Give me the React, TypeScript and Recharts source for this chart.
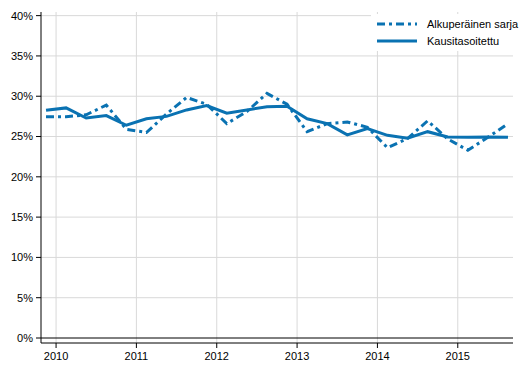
import { CartesianGrid, Line, LineChart, ReferenceLine, XAxis, YAxis } from 'recharts';

const quarters = [
  '2010Q1', '2010Q2', '2010Q3', '2010Q4',
  '2011Q1', '2011Q2', '2011Q3', '2011Q4',
  '2012Q1', '2012Q2', '2012Q3', '2012Q4',
  '2013Q1', '2013Q2', '2013Q3', '2013Q4',
  '2014Q1', '2014Q2', '2014Q3', '2014Q4',
  '2015Q1', '2015Q2', '2015Q3', '2015Q4',
];

const original = [
  27.45, 27.45, 27.7, 28.9, 25.9, 25.5, 27.8, 29.85, 29.0, 26.6, 28.1, 30.35,
  29.0, 25.6, 26.6, 26.8, 26.15, 23.6, 24.75, 26.95, 24.7, 23.3, 24.9, 26.6,
];

const adjusted = [
  28.25, 28.55, 27.3, 27.6, 26.4, 27.2, 27.5, 28.3, 28.85, 27.9, 28.3, 28.7,
  28.75, 27.2, 26.6, 25.2, 26.0, 25.15, 24.8, 25.6, 24.95, 24.9, 24.95, 24.9,
];

const years = ['2010', '2011', '2012', '2013', '2014', '2015'];
const yTicks = [0, 5, 10, 15, 20, 25, 30, 35, 40];
const seriesNames = ['Alkuperäinen sarja', 'Kausitasoitettu'];

const BLUE = '#0a72b2';
const DASH = '8 4 3 4';

const data = quarters.map((q, i) => ({ i, q, original: original[i], adjusted: adjusted[i] }));
// year tick sits halfway between Q1 and Q2
const xTicks = years.map((_, k) => k * 4 + 0.5);

const font = { fontFamily: '"Liberation Sans", Arial, sans-serif', fontSize: 11, fill: '#000' };

function LegendBox() {
  const row = { display: 'flex', alignItems: 'center', height: 17 } as const;
  const sample = { flexShrink: 0 } as const;
  return (
    <div
      style={{
        position: 'absolute',
        left: 371,
        top: 14,
        width: 142,
        background: '#fff',
        padding: '1px 0 2px 6px',
        boxSizing: 'border-box',
        fontFamily: font.fontFamily,
        fontSize: 11,
        color: '#000',
        whiteSpace: 'nowrap',
      }}
    >
      <div style={row}>
        <svg width={40} height={6} style={sample}>
          <line x1={0} y1={3} x2={40} y2={3} stroke={BLUE} strokeWidth={3} strokeDasharray={DASH} />
        </svg>
        <span style={{ marginLeft: 10 }}>{seriesNames[0]}</span>
      </div>
      <div style={row}>
        <svg width={40} height={6} style={sample}>
          <line x1={0} y1={3} x2={40} y2={3} stroke={BLUE} strokeWidth={3} />
        </svg>
        <span style={{ marginLeft: 10 }}>{seriesNames[1]}</span>
      </div>
    </div>
  );
}

export default function App() {
  return (
    <div style={{ position: 'fixed', left: 0, top: 0, width: 529, height: 378, background: '#fff' }}>
      <LineChart width={529} height={378} data={data} margin={{ top: 12, right: 16, bottom: 5, left: 0 }}>
        <CartesianGrid stroke="#d9d9d9" strokeWidth={1} horizontalValues={yTicks.slice(1)} verticalValues={xTicks} />
        <XAxis
          type="number"
          dataKey="i"
          domain={[-0.25, 23.25]}
          ticks={xTicks}
          tickFormatter={(v: number) => years[Math.round((v - 0.5) / 4)]}
          allowDataOverflow
          height={30}
          tickSize={5}
          tickMargin={4}
          stroke="#000"
          tick={font}
        />
        <YAxis
          type="number"
          domain={[-0.62, 40.45]}
          ticks={yTicks}
          tickFormatter={(v: number) => `${v}%`}
          allowDataOverflow
          width={41}
          tickSize={5}
          tickMargin={3}
          stroke="#000"
          tick={font}
        />
        <ReferenceLine y={0} stroke="#000" strokeWidth={1} />
        <Line
          name={seriesNames[0]}
          dataKey="original"
          stroke={BLUE}
          strokeWidth={3}
          strokeDasharray={DASH}
          dot={false}
          isAnimationActive={false}
        />
        <Line
          name={seriesNames[1]}
          dataKey="adjusted"
          stroke={BLUE}
          strokeWidth={3}
          dot={false}
          isAnimationActive={false}
        />
      </LineChart>
      <LegendBox />
    </div>
  );
}
